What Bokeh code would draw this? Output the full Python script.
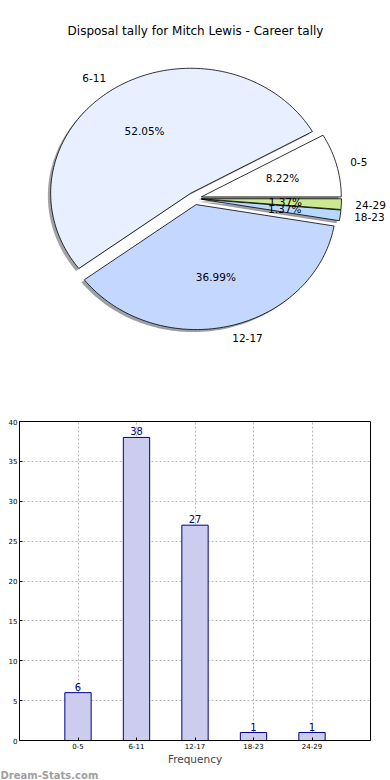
import numpy as np
from bokeh.plotting import figure
from bokeh.models import ColumnDataSource, Label, LabelSet, FixedTicker, Range1d, Title
from bokeh.core.properties import value
from bokeh.layouts import column
from bokeh.embed import file_html
from bokeh.resources import INLINE

chart_title = "Disposal tally for Mitch Lewis - Career tally"
categories = ["0-5", "6-11", "12-17", "18-23", "24-29"]
counts = [6, 38, 27, 1, 1]
pie_colors = ["#ffffff", "#e8f0ff", "#c4d8ff", "#b8d8ff", "#cce890"]
y_ticks = [0, 5, 10, 15, 20, 25, 30, 35, 40]
x_axis_label = "Frequency"
watermark = "Dream-Stats.com"

FONT = "DejaVu Sans"
explode = 0.05
W = 390
PH = 400
FL, FR = 19, 370          # bar frame left / right (px)
cx_px, cy_px = 194, 198   # pie centre (px)
rx_px, ry_px = 140, 125   # pie radii (px)

# ---------------- pie ----------------
p1 = figure(width=W, height=PH, output_backend="svg", toolbar_location=None,
            title=None, x_axis_location=None, y_axis_location=None,
            x_range=Range1d(-cx_px / rx_px, (W - cx_px) / rx_px),
            y_range=Range1d(-(PH - cy_px) / ry_px, cy_px / ry_px),
            min_border=0)
p1.frame_align = False
p1.grid.visible = False
p1.outline_line_color = None

total = sum(counts)
fracs = np.array(counts, dtype=float) / total
edges = np.concatenate([[0.0], np.cumsum(fracs)]) * 2 * np.pi

sh_xs, sh_ys, sh_col = [], [], []
xs, ys = [], []
lab = {"left": dict(x=[], y=[], text=[]), "right": dict(x=[], y=[], text=[])}
pct_x, pct_y, pct_t = [], [], []
for i in range(len(counts)):
    a0, a1 = edges[i], edges[i + 1]
    mid = 0.5 * (a0 + a1)
    ox, oy = explode * np.cos(mid), explode * np.sin(mid)
    n = max(3, int((a1 - a0) / (2 * np.pi) * 240))
    th = np.linspace(a0, a1, n)
    px = [ox] + list(ox + np.cos(th))
    py = [oy] + list(oy + np.sin(th))
    xs.append(px)
    ys.append(py)
    sh_xs.append([v - 0.02 for v in px])
    sh_ys.append([v - 0.02 for v in py])
    c = pie_colors[i].lstrip("#")
    rgb = [int(c[k:k + 2], 16) for k in (0, 2, 4)]
    sh_col.append("#%02x%02x%02x" % tuple(int(0.3 * v) for v in rgb))
    lx = ox + 1.1 * np.cos(mid)
    ly = oy + 1.1 * np.sin(mid)
    side = "left" if lx > 0 else "right"
    lab[side]["x"].append(lx)
    lab[side]["y"].append(ly)
    lab[side]["text"].append(categories[i])
    pct_x.append(ox + 0.6 * np.cos(mid))
    pct_y.append(oy + 0.6 * np.sin(mid))
    pct_t.append("%.2f%%" % (fracs[i] * 100))

p1.patches(xs=sh_xs, ys=sh_ys, fill_color=sh_col, fill_alpha=0.5, line_color=None)
p1.patches(xs=xs, ys=ys, fill_color=pie_colors, line_color="black", line_width=0.8)

for side, d in lab.items():
    p1.add_layout(LabelSet(x="x", y="y", text="text", source=ColumnDataSource(d),
                           text_align=side, text_baseline="middle", text_font=value(FONT),
                           text_font_size="10.5px", text_color="black"))
pct_src = ColumnDataSource(dict(x=pct_x, y=pct_y, text=pct_t))
p1.text(x="x", y="y", text="text", text_align="center", text_baseline="middle",
        text_font=value(FONT), text_font_size="10.5px", text_color="black", source=pct_src)

p1.add_layout(Label(x=(195 - cx_px) / rx_px, y=(cy_px - 30) / ry_px, text=chart_title,
                    text_align="center", text_baseline="middle", text_font=FONT,
                    text_font_size="12px", text_color="black"))

# ---------------- bars ----------------
BH = 780 - PH
positions = list(range(1, len(categories) + 1))
p2 = figure(width=W, height=BH, output_backend="svg", toolbar_location=None,
            x_range=Range1d(0, len(categories) + 1), y_range=Range1d(y_ticks[0], y_ticks[-1]),
            min_border_left=FL, min_border_right=W - FR,
            min_border_top=21, min_border_bottom=BH - 21 - 319)
p2.frame_align = False
p2.outline_line_color = "black"
p2.outline_line_width = 1

bsrc = ColumnDataSource(dict(x=positions, top=counts, text=[str(c) for c in counts]))
p2.vbar(x="x", top="top", bottom=0, width=0.45, fill_color="#ccccee",
        line_color="#000080", line_width=1, source=bsrc)
p2.text(x="x", y="top", text="text", text_align="center", text_baseline="bottom",
        y_offset=-2, text_font=value(FONT), text_font_size="10px", text_color="#000080",
        source=bsrc)

p2.xaxis.ticker = FixedTicker(ticks=positions)
p2.xaxis.major_label_overrides = {pos: cat for pos, cat in zip(positions, categories)}
p2.yaxis.ticker = FixedTicker(ticks=y_ticks)
for ax in (p2.xaxis[0], p2.yaxis[0]):
    ax.major_label_text_font = FONT
    ax.major_label_text_font_size = "7px"
    ax.major_label_text_color = "black"
    ax.major_tick_in = 3
    ax.major_tick_out = 0
    ax.minor_tick_line_color = None
    ax.major_label_standoff = 2
    ax.axis_line_color = "black"
p2.xaxis.axis_label = x_axis_label
p2.xaxis.axis_label_text_font = FONT
p2.xaxis.axis_label_text_font_size = "10.5px"
p2.xaxis.axis_label_text_font_style = "normal"
p2.xaxis.axis_label_standoff = 1

p2.grid.grid_line_color = "#b8b8b8"
p2.grid.grid_line_dash = "2 2"
p2.grid.grid_line_width = 1
p2.xgrid.ticker = FixedTicker(ticks=positions)
p2.ygrid.ticker = FixedTicker(ticks=y_ticks)

p2.add_layout(Title(text=watermark, align="left", offset=-FL, standoff=0,
                    text_font=FONT, text_font_size="10px", text_font_style="bold",
                    text_color="#a0a0a0"), "below")

layout = column(p1, p2, spacing=0)
open("out.html", "w").write(file_html(layout, INLINE))
